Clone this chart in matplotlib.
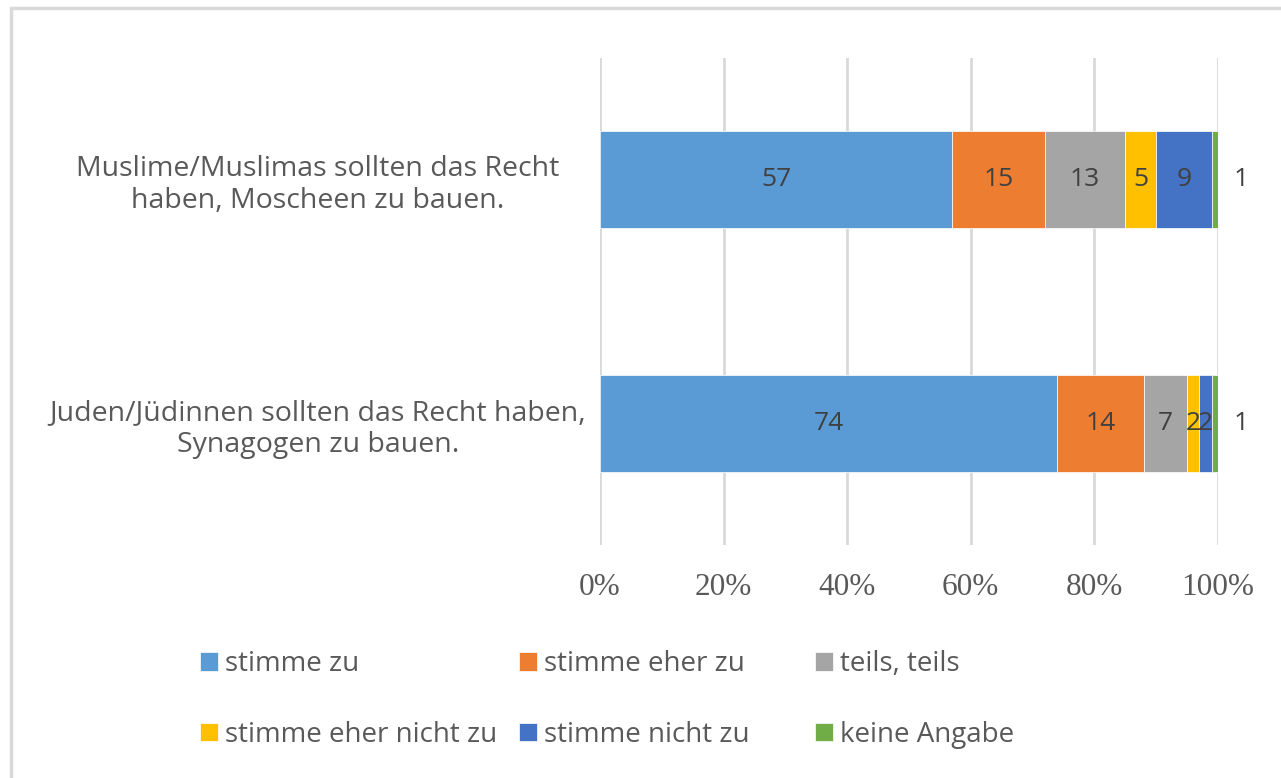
import matplotlib.pyplot as plt
from matplotlib.patches import Rectangle

# Data for the chart
categories = ['Juden/Jüdinnen sollten das Recht haben,\nSynagogen zu bauen.',
              'Muslime/Muslimas sollten das Recht\nhaben, Moscheen zu bauen.']
series = ['stimme zu', 'stimme eher zu', 'teils, teils',
          'stimme eher nicht zu', 'stimme nicht zu', 'keine Angabe']
values = [
    [74, 57],   # stimme zu
    [14, 15],   # stimme eher zu
    [7, 13],    # teils, teils
    [2, 5],     # stimme eher nicht zu
    [2, 9],     # stimme nicht zu
    [1, 1],     # keine Angabe
]
colors = ['#5B9BD5', '#ED7D31', '#A5A5A5', '#FFC000', '#4472C4', '#70AD47']
ticks = [0, 20, 40, 60, 80, 100]

sans = 'Open Sans'
serif = 'Liberation Serif'

fig = plt.figure(figsize=(12.81, 7.78), dpi=100)
ax = fig.add_axes([0.4684, 0.2995, 0.4824, 0.6259])

y = range(len(categories))
left = [0] * len(categories)
handles = []
for name, vals, col in zip(series, values, colors):
    bars = ax.barh(y, vals, left=left, height=0.4, color=col, label=name,
                   edgecolor='white', linewidth=0.5, zorder=3)
    handles.append(bars)
    for i, v in enumerate(vals):
        if name == 'keine Angabe':
            ax.annotate(str(v), (left[i] + v, i), xytext=(17, 0),
                        textcoords='offset points', ha='center', va='center',
                        fontsize=19, color='#404040', family=sans)
        else:
            ax.text(left[i] + v / 2, i, str(v), ha='center', va='center',
                    fontsize=19, color='#404040', family=sans, zorder=4)
    left = [l + v for l, v in zip(left, vals)]

ax.set_xlim(0, 100)
ax.set_ylim(-0.5, 1.5)
ax.set_xticks(ticks)
ax.set_xticklabels([f'{t}%' for t in ticks], family=serif, fontsize=22.5,
                   color='#595959')
ax.set_yticks(list(y))
ax.set_yticklabels(categories, family=sans, fontsize=20.5, color='#595959',
                   ha='center', multialignment='center')
ax.tick_params(axis='y', length=0, pad=203)
ax.tick_params(axis='x', length=0, pad=20)
ax.grid(axis='x', color='#D9D9D9', linewidth=2, zorder=0)
for s in ax.spines.values():
    s.set_visible(False)

# legend in three columns, two rows, order as in the source
for col_i, xpos in enumerate([0.156, 0.405, 0.636]):
    fig.legend([handles[col_i], handles[col_i + 3]],
               [series[col_i], series[col_i + 3]],
               loc='upper left', bbox_to_anchor=(xpos, 0.1645), ncol=1,
               frameon=False, labelcolor='#595959',
               handlelength=0.65, handleheight=0.65, handletextpad=0.25,
               labelspacing=1.54, borderaxespad=0, borderpad=0,
               prop={'family': sans, 'size': 20})

# light border around the chart
fig.add_artist(Rectangle((11 / 1281, -0.1), 1.2, 1.1 - 8 / 778,
                         transform=fig.transFigure, fill=False,
                         edgecolor='#D9D9D9', linewidth=2.5))

fig.savefig('out.png', dpi=100)
